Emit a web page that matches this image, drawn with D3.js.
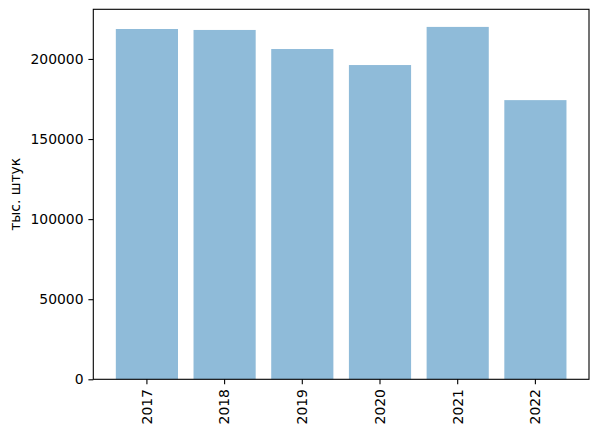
<!DOCTYPE html>
<html>
<head>
<meta charset="utf-8">
<script src="https://cdn.jsdelivr.net/npm/d3@7"></script>
<style>
  body { margin: 0; background: #fff; }
  text { font-family: "DejaVu Sans", sans-serif; }
</style>
</head>
<body>
<div id="chart"></div>
<script>
// years and production, thousand pieces
var years = ["2017", "2018", "2019", "2020", "2021", "2022"];
var values = [218700, 218100, 206200, 196200, 220000, 174300];
var yTicks = [0, 50000, 100000, 150000, 200000];

var W = 598, H = 434;
var margin = { top: 9.3, right: 9, bottom: 54.7, left: 93.3 };
var w = W - margin.left - margin.right;
var h = H - margin.top - margin.bottom;

var svg = d3.select("#chart").append("svg")
  .attr("width", W).attr("height", H);

var g = svg.append("g")
  .attr("transform", "translate(" + margin.left + "," + margin.top + ")");

var x = d3.scaleBand().domain(years).range([0, w])
  .paddingInner(0.2).paddingOuter(0.29);

var y = d3.scaleLinear()
  .domain([0, d3.max(values) * 1.05])
  .range([h, 0]);

g.selectAll("rect.bar")
  .data(values)
  .enter().append("rect")
  .attr("class", "bar")
  .attr("x", function (d, i) { return x(years[i]); })
  .attr("y", function (d) { return y(d); })
  .attr("width", x.bandwidth())
  .attr("height", function (d) { return h - y(d); })
  .attr("fill", "#1f77b4")
  .attr("fill-opacity", 0.5);

var xAxis = g.append("g")
  .attr("transform", "translate(0," + h + ")")
  .call(d3.axisBottom(x).tickSize(4.9).tickPadding(4.9));
xAxis.selectAll("text")
  .attr("transform", "rotate(-90)")
  .attr("x", -9.8)
  .attr("y", 0)
  .attr("dy", "0.35em")
  .style("text-anchor", "end");

var yAxis = g.append("g")
  .call(d3.axisLeft(y).tickValues(yTicks).tickFormat(d3.format("d"))
    .tickSize(4.9).tickPadding(4.9));

[xAxis, yAxis].forEach(function (a) {
  a.select(".domain").remove();
  a.selectAll("line").attr("stroke", "#000").attr("stroke-width", 1.1);
  a.selectAll("text").attr("font-size", "13.9px").attr("fill", "#000")
    .style("font-family", "DejaVu Sans, sans-serif");
});

// frame
g.append("rect")
  .attr("width", w).attr("height", h)
  .attr("fill", "none").attr("stroke", "#000").attr("stroke-width", 1.1);

svg.append("text")
  .attr("transform", "translate(20," + (margin.top + h / 2) + ") rotate(-90)")
  .attr("text-anchor", "middle")
  .attr("font-size", "13.9px")
  .text("тыс. штук");
</script>
</body>
</html>
